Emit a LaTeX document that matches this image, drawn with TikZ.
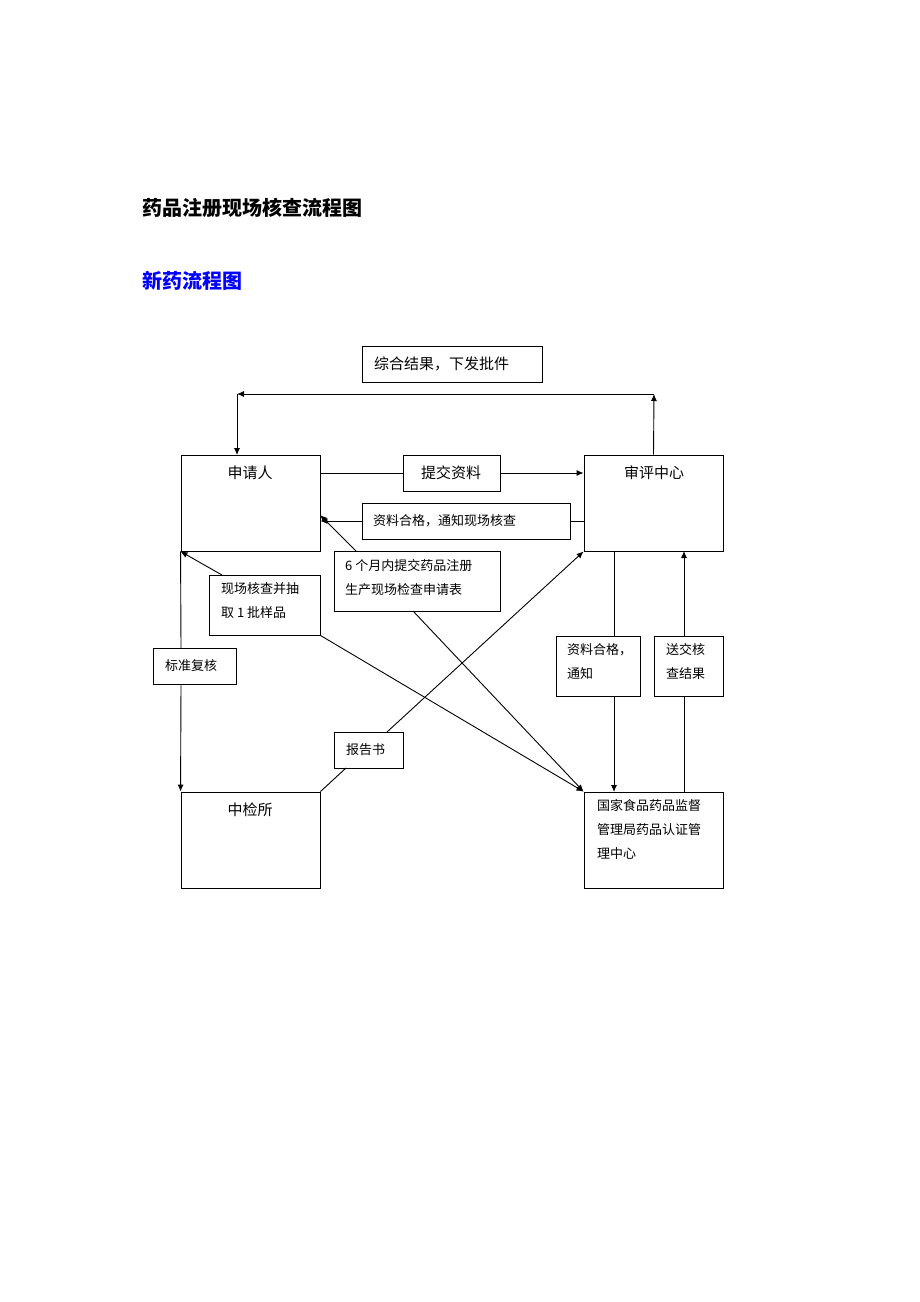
\documentclass[tikz,border=0pt]{standalone}
\usepackage{fontspec}
\setmainfont{Liberation Serif}
\newfontfamily\cjk{Noto Sans CJK SC}
\begin{document}
\begin{tikzpicture}[x=1pt,y=-1pt,
  box/.style={draw,line width=0.9pt,inner sep=0pt},
  txt/.style={inner sep=0pt,font=\cjk\fontsize{13}{24}\selectfont,align=left},
  big/.style={inner sep=0pt,font=\cjk\fontsize{15}{18}\selectfont},
  ln/.style={line width=0.9pt},
  ar/.style={line width=0.9pt,-{Latex[length=7pt,width=6pt]}}]
\usetikzlibrary{arrows.meta}
\useasboundingbox[fill=white] (0,0) rectangle (920,1302);
\node[anchor=west,font=\cjk\bfseries\fontsize{20}{24}\selectfont] (t1) at (139,208) {药品注册现场核查流程图};
\node[anchor=west,font=\cjk\bfseries\fontsize{20}{24}\selectfont,text={rgb,255:red,0;green,0;blue,255}] (t2) at (139,281) {新药流程图};
% boxes: corner-defined
\newcommand{\mybox}[5]{\node[box,minimum width=#4-#2,minimum height=#5-#3] (#1) at ({(#2+#4)/2},{(#3+#5)/2}) {};}
\mybox{top}{362}{346}{542}{382}
\mybox{sq}{181}{455}{320}{551}
\mybox{sp}{584}{455}{723}{551}
\mybox{tj}{403}{455}{500}{491}
\mybox{zl}{362}{503}{570}{539}
\mybox{lg}{334}{551}{500}{611}
\mybox{xc}{209}{575}{320}{635}
\mybox{bz}{153}{648}{236}{684}
\mybox{tz}{556}{636}{640}{696}
\mybox{sj}{654}{636}{723}{696}
\mybox{bg}{334}{732}{403}{768}
\mybox{zj}{181}{792}{320}{888}
\mybox{gj}{584}{792}{723}{888}
% texts
\node[big,anchor=west] (ttop) at (374,364) {综合结果，下发批件};
\node[big] (tsq) at (250,473) {申请人};
\node[big] (tsp) at (654,473) {审评中心};
\node[big] (ttj) at (451,473) {提交资料};
\node[txt,anchor=west] (tzl) at (373,521) {资料合格，通知现场核查};
\node[txt,anchor=north west] (tlg) at (345,559) {6 个月内提交药品注册\\生产现场检查申请表};
\node[txt,anchor=north west] (txc) at (221,582) {现场核查并抽\\取 1 批样品};
\node[txt,anchor=west] (tbz) at (165,666) {标准复核};
\node[txt,anchor=north west] (ttz) at (567,643) {资料合格，\\通知};
\node[txt,anchor=north west] (tsj) at (666,643) {送交核\\查结果};
\node[txt,anchor=west] (tbg) at (346,750) {报告书};
\node[big] (tzj) at (250,810) {中检所};
\node[txt,anchor=north west] (tgj) at (597,799) {国家食品药品监督\\管理局药品认证管\\理中心};
% connectors
\coordinate (c1) at (654,394);
\coordinate (c2) at (237,394);
\draw[ar] (sp.north) -- (c1);
\draw[ar] (c1) -- (c2);
\draw[ar] (c2) -- (237,455);
\draw[ln] (sq.east |- tj.west) -- (tj.west);
\draw[ar] (tj.east) -- (sp.west |- tj.east);
\draw[ln] (sp.west |- zl.east) -- (zl.east);
\draw[ar] (zl.west) -- (sq.east |- zl.west);
\draw[ar] (356,551) -- (320,515);
\draw[ar] (413,611) -- (gj.north west);
\draw[ar] (222,575) -- (sq.south west);
\draw[ar] (xc.south east) -- (gj.north west);
\draw[ln] (sq.south west) -- (181,648);
\draw[ar] (181,684) -- (zj.north west);
\draw[ln] (346,768) -- (zj.north east);
\draw[ar] (387,732) -- (sp.south west);
\draw[ln] (614,551) -- (614,636);
\draw[ar] (614,696) -- (614,792);
\draw[ln] (684,792) -- (684,696);
\draw[ar] (684,636) -- (684,551);
\end{tikzpicture}
\end{document}
